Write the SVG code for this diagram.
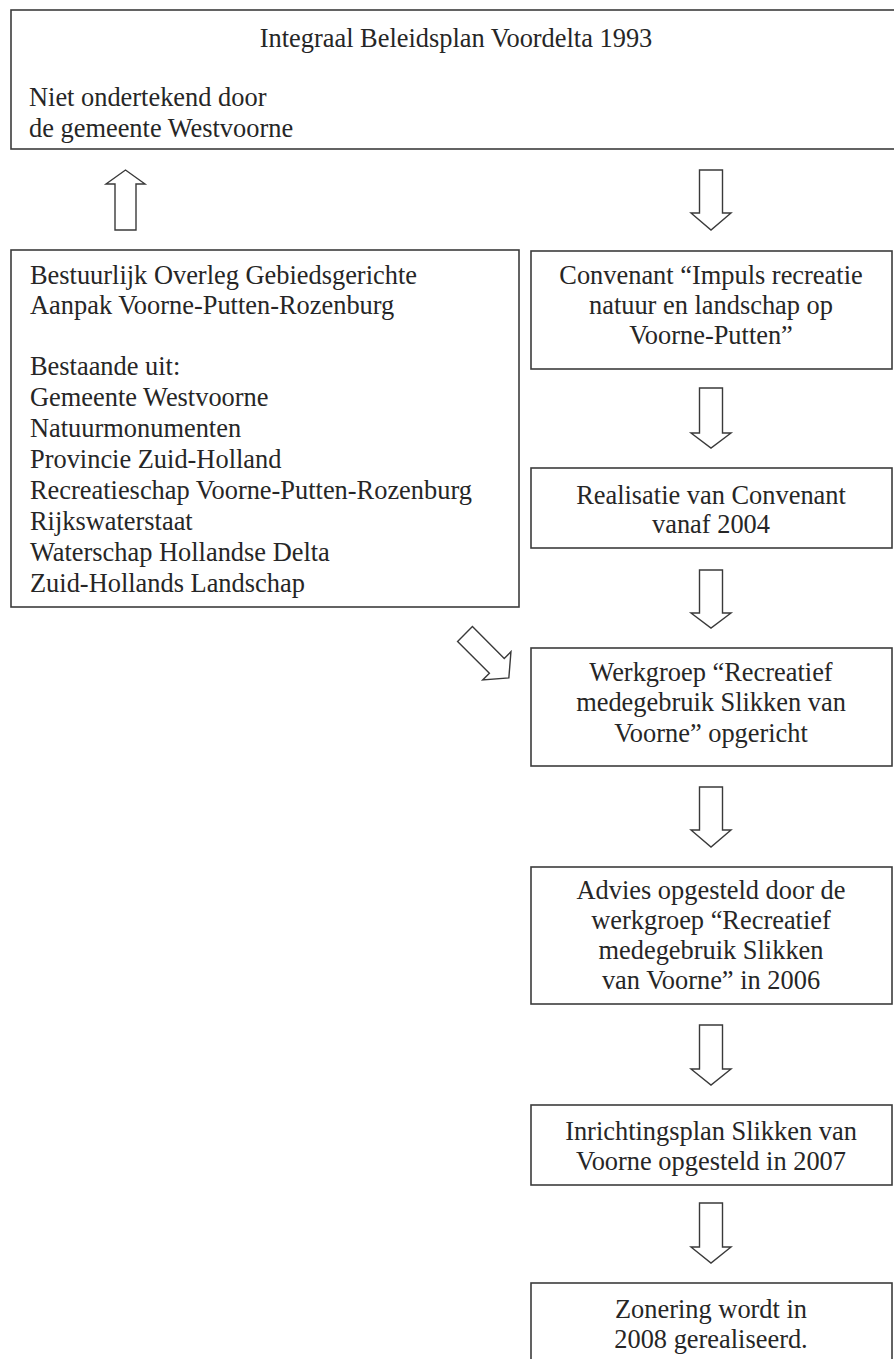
<svg xmlns="http://www.w3.org/2000/svg" width="894" height="1359" viewBox="0 0 894 1359">
<style>
  .box { fill: #ffffff; stroke: #3c3c3c; stroke-width: 1.6; }
  .t { font-family: "Liberation Serif", "Times New Roman", serif; font-size: 26.4px; fill: #262626; }
  .c { text-anchor: middle; }
  .arr { fill: #ffffff; stroke: #3a3a3a; stroke-width: 1.4; stroke-linejoin: miter; }
</style>
<rect x="0" y="0" width="894" height="1359" fill="#ffffff"/>

<g id="node-beleidsplan">
  <rect class="box" x="11" y="10" width="900" height="139"/>
  <text class="t c" x="456" y="47">Integraal Beleidsplan Voordelta 1993</text>
  <text class="t" x="29" y="106">Niet ondertekend door</text>
  <text class="t" x="29" y="137">de gemeente Westvoorne</text>
</g>

<g id="node-overleg">
  <rect class="box" x="11" y="250" width="508" height="357"/>
  <text class="t" x="30" y="284">Bestuurlijk Overleg Gebiedsgerichte</text>
  <text class="t" x="30" y="314">Aanpak Voorne-Putten-Rozenburg</text>
  <text class="t" x="30" y="375">Bestaande uit:</text>
  <text class="t" x="30" y="406">Gemeente Westvoorne</text>
  <text class="t" x="30" y="437">Natuurmonumenten</text>
  <text class="t" x="30" y="468">Provincie Zuid-Holland</text>
  <text class="t" x="30" y="499">Recreatieschap Voorne-Putten-Rozenburg</text>
  <text class="t" x="30" y="530">Rijkswaterstaat</text>
  <text class="t" x="30" y="561">Waterschap Hollandse Delta</text>
  <text class="t" x="30" y="592">Zuid-Hollands Landschap</text>
</g>

<g id="node-convenant">
  <rect class="box" x="531" y="251" width="361" height="118"/>
  <text class="t c" x="711" y="284">Convenant “Impuls recreatie</text>
  <text class="t c" x="711" y="314">natuur en landschap op</text>
  <text class="t c" x="711" y="344">Voorne-Putten”</text>
</g>

<g id="node-realisatie">
  <rect class="box" x="531" y="468" width="361" height="80"/>
  <text class="t c" x="711" y="504">Realisatie van Convenant</text>
  <text class="t c" x="711" y="533">vanaf 2004</text>
</g>

<g id="node-werkgroep">
  <rect class="box" x="531" y="648" width="361" height="118"/>
  <text class="t c" x="711" y="681">Werkgroep “Recreatief</text>
  <text class="t c" x="711" y="711">medegebruik Slikken van</text>
  <text class="t c" x="711" y="742">Voorne” opgericht</text>
</g>

<g id="node-advies">
  <rect class="box" x="531" y="867" width="361" height="137"/>
  <text class="t c" x="711" y="899">Advies opgesteld door de</text>
  <text class="t c" x="711" y="929">werkgroep “Recreatief</text>
  <text class="t c" x="711" y="959">medegebruik Slikken</text>
  <text class="t c" x="711" y="989">van Voorne” in 2006</text>
</g>

<g id="node-inrichtingsplan">
  <rect class="box" x="531" y="1105" width="361" height="80"/>
  <text class="t c" x="711" y="1140">Inrichtingsplan Slikken van</text>
  <text class="t c" x="711" y="1170">Voorne opgesteld in 2007</text>
</g>

<g id="node-zonering">
  <rect class="box" x="531" y="1283" width="361" height="100"/>
  <text class="t c" x="711" y="1318">Zonering wordt in</text>
  <text class="t c" x="711" y="1348">2008 gerealiseerd.</text>
</g>

<g id="connectors">
  <path class="arr" d="M115 230 V184 H106 L125.5 170 L145 184 H136 V230 Z"/>
  <path class="arr" d="M699.5 170 H722.5 V213 H731 L711 230 L691 213 H699.5 Z"/>
  <path class="arr" d="M699.5 388 H722.5 V433 H731 L711 448 L691 433 H699.5 Z"/>
  <path class="arr" d="M699.5 570 H722.5 V613 H731 L711 628 L691 613 H699.5 Z"/>
  <path class="arr" d="M699.5 787 H722.5 V830 H731 L711 847 L691 830 H699.5 Z"/>
  <path class="arr" d="M699.5 1025 H722.5 V1069 H731 L711 1085 L691 1069 H699.5 Z"/>
  <path class="arr" d="M699.5 1203 H722.5 V1247 H731 L711 1263 L691 1247 H699.5 Z"/>
  <path class="arr" transform="translate(465 634) rotate(45)" d="M0 -10.5 H45 V-20 L62 0 L45 20 V10.5 H0 Z"/>
</g>
</svg>
